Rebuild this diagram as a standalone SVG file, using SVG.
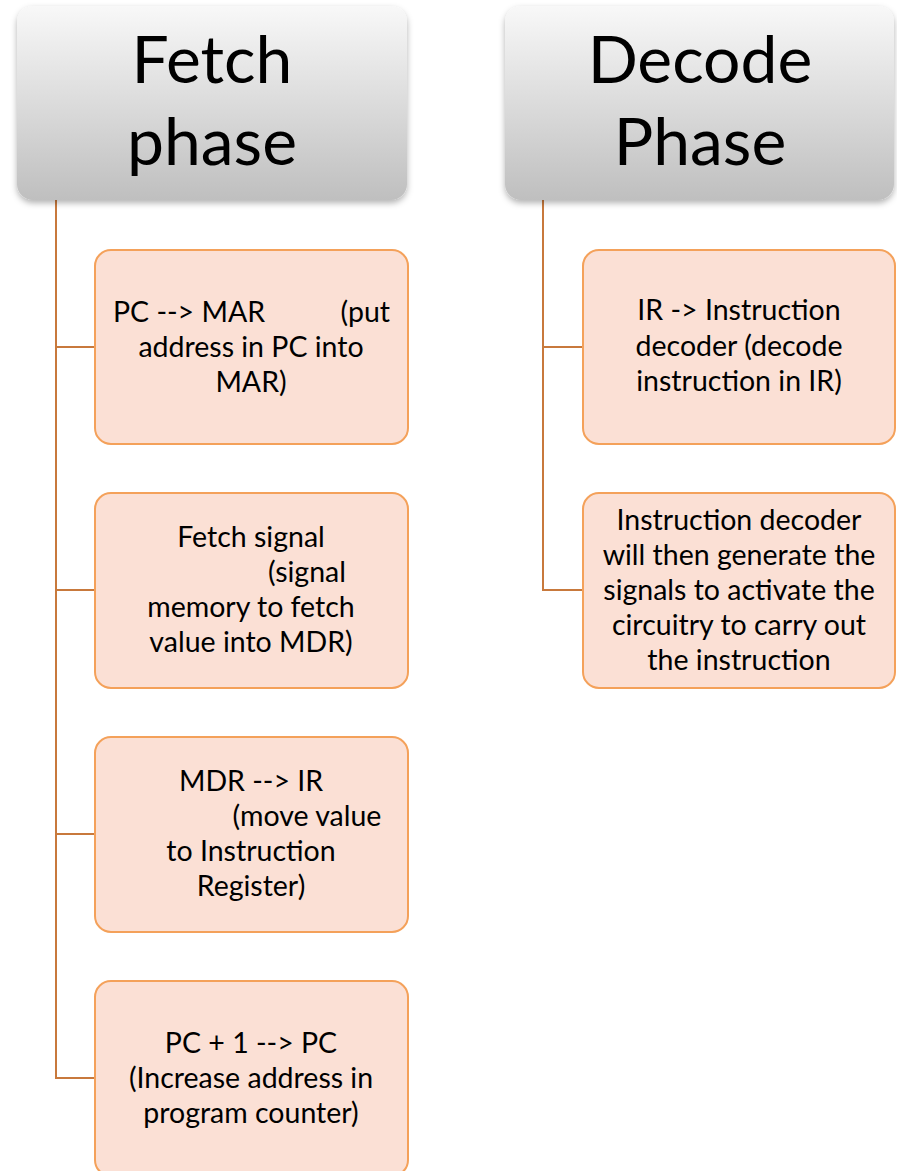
<svg xmlns="http://www.w3.org/2000/svg" width="897" height="1171" viewBox="0 0 897 1171">
<defs>
<linearGradient id="hdrGrad" x1="0" y1="0" x2="0" y2="1">
<stop offset="0" stop-color="#f8f8f8"/>
<stop offset="1" stop-color="#bfbfbf"/>
</linearGradient>
<filter id="shadow" x="-10%" y="-10%" width="120%" height="125%">
<feDropShadow dx="0" dy="3" stdDeviation="3" flood-color="#000" flood-opacity="0.3"/>
</filter>
</defs>
<style>
.hdr{fill:url(#hdrGrad);filter:url(#shadow);}
.hdrText{font-family:Lato,"Liberation Sans",sans-serif;font-size:66px;fill:#000;text-anchor:middle;}
.box{fill:#fbe0d5;stroke:#f4a15a;stroke-width:2;}
.boxText{font-family:Lato,"Liberation Sans",sans-serif;font-size:28.5px;fill:#000;text-anchor:middle;}
.conn{fill:none;stroke:#c8793c;stroke-width:2;}
</style>
<rect width="897" height="1171" fill="#ffffff"/>
<g id="connectors">
<path class="conn" d="M56,200 V1078 H95"/>
<path class="conn" d="M56,347 H95"/>
<path class="conn" d="M56,590 H95"/>
<path class="conn" d="M56,834 H95"/>
<path class="conn" d="M543,200 V590 H583"/>
<path class="conn" d="M543,347 H583"/>
</g>
<g id="fetch-phase">
<rect class="hdr" x="17" y="6" width="390" height="194" rx="16"/>
<text class="hdrText"><tspan x="212" y="83">Fetch</tspan><tspan x="212" y="165">phase</tspan></text>
</g>
<g id="decode-phase">
<rect class="hdr" x="505" y="6" width="389" height="194" rx="16"/>
<text class="hdrText"><tspan x="700" y="83">Decode</tspan><tspan x="700" y="165">Phase</tspan></text>
</g>
<g id="pc-mar">
<rect class="box" x="95" y="250" width="313" height="194" rx="16"/>
<text class="boxText"><tspan x="113" y="322" text-anchor="start">PC --&gt; MAR</tspan><tspan x="390" y="322" text-anchor="end">(put</tspan><tspan x="251" y="357">address in PC into</tspan><tspan x="251" y="392">MAR)</tspan></text>
</g>
<g id="fetch-signal">
<rect class="box" x="95" y="493" width="313" height="195" rx="16"/>
<text class="boxText"><tspan x="251" y="547">Fetch signal</tspan><tspan x="307" y="582">(signal</tspan><tspan x="251" y="617">memory to fetch</tspan><tspan x="251" y="652">value into MDR)</tspan></text>
</g>
<g id="mdr-ir">
<rect class="box" x="95" y="737" width="313" height="195" rx="16"/>
<text class="boxText"><tspan x="251" y="791">MDR --&gt; IR</tspan><tspan x="307" y="826">(move value</tspan><tspan x="251" y="861">to Instruction</tspan><tspan x="251" y="896">Register)</tspan></text>
</g>
<g id="pc-increment">
<rect class="box" x="95" y="981" width="313" height="195" rx="16"/>
<text class="boxText"><tspan x="251" y="1053">PC + 1 --&gt; PC</tspan><tspan x="251" y="1088">(Increase address in</tspan><tspan x="251" y="1123">program counter)</tspan></text>
</g>
<g id="ir-decoder">
<rect class="box" x="583" y="250" width="312" height="194" rx="16"/>
<text class="boxText"><tspan x="739" y="320">IR -&gt; Instruction</tspan><tspan x="739" y="356">decoder (decode</tspan><tspan x="739" y="391">instruction in IR)</tspan></text>
</g>
<g id="decoder-signals">
<rect class="box" x="583" y="493" width="312" height="195" rx="16"/>
<text class="boxText"><tspan x="739" y="530">Instruction decoder</tspan><tspan x="739" y="565">will then generate the</tspan><tspan x="739" y="600">signals to activate the</tspan><tspan x="739" y="635">circuitry to carry out</tspan><tspan x="739" y="670">the instruction</tspan></text>
</g>
</svg>
